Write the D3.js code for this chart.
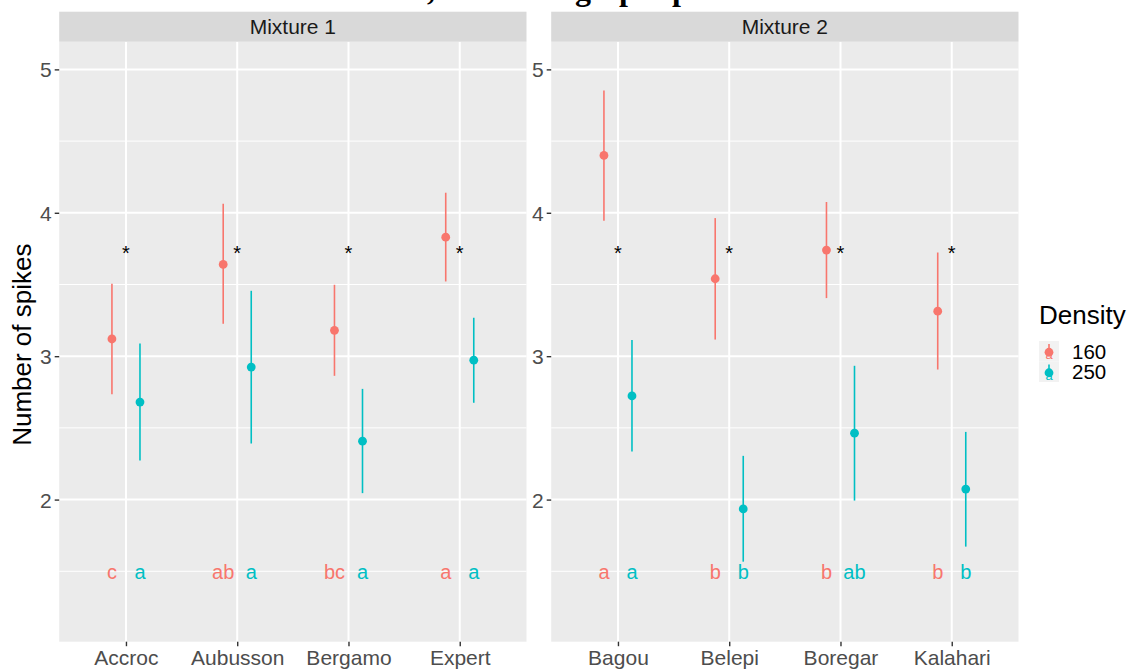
<!DOCTYPE html>
<html>
<head>
<meta charset="utf-8">
<script src="https://cdn.jsdelivr.net/npm/d3@7"></script>
<style>
  html, body { margin: 0; padding: 0; background: #ffffff; }
  svg { display: block; font-family: "Liberation Sans", Arial, sans-serif; }
</style>
</head>
<body>
<svg id="chart" width="1137" height="671"></svg>
<script>
// ---------------- data ----------------
const panels = ["Mixture 1", "Mixture 2"];
const categories1 = ["Accroc", "Aubusson", "Bergamo", "Expert"];
const categories2 = ["Bagou", "Belepi", "Boregar", "Kalahari"];
const densities = ["160", "250"];

const mean160_m1 = [3.12, 3.64, 3.18, 3.83];
const lo160_m1   = [2.735, 3.226, 2.863, 3.521];
const hi160_m1   = [3.505, 4.063, 3.498, 4.14];
const mean250_m1 = [2.68, 2.924, 2.407, 2.972];
const lo250_m1   = [2.272, 2.391, 2.045, 2.675];
const hi250_m1   = [3.088, 3.456, 2.772, 3.268];

const mean160_m2 = [4.40, 3.54, 3.74, 3.314];
const lo160_m2   = [3.944, 3.116, 3.405, 2.907];
const hi160_m2   = [4.853, 3.963, 4.075, 3.723];
const mean250_m2 = [2.723, 1.935, 2.463, 2.073];
const lo250_m2   = [2.335, 1.567, 1.993, 1.672];
const hi250_m2   = [3.112, 2.305, 2.933, 2.472];

const letters160_m1 = ["c", "ab", "bc", "a"];
const letters250_m1 = ["a", "a", "a", "a"];
const letters160_m2 = ["a", "b", "b", "b"];
const letters250_m2 = ["a", "b", "ab", "b"];

const starY = 3.75;
const letterY = 1.5;
const yTicks = [2, 3, 4, 5];
const yMinor = [1.5, 2.5, 3.5, 4.5];
const yDomain = [1.009, 5.193];

// ---------------- build ----------------
const colors = d3.scaleOrdinal().domain(densities).range(["#F8766D", "#00BFC4"]);

function rows(cats, m160, l160, h160, m250, l250, h250, t160, t250) {
  const out = [];
  cats.forEach((c, i) => {
    out.push({cat: c, dens: "160", mean: m160[i], lo: l160[i], hi: h160[i], letter: t160[i]});
    out.push({cat: c, dens: "250", mean: m250[i], lo: l250[i], hi: h250[i], letter: t250[i]});
  });
  return out;
}
const panelData = [
  {name: panels[0], cats: categories1,
   rows: rows(categories1, mean160_m1, lo160_m1, hi160_m1, mean250_m1, lo250_m1, hi250_m1, letters160_m1, letters250_m1)},
  {name: panels[1], cats: categories2,
   rows: rows(categories2, mean160_m2, lo160_m2, hi160_m2, mean250_m2, lo250_m2, hi250_m2, letters160_m2, letters250_m2)}
];

const svg = d3.select("#chart");

// fragment of the cropped caption above the figure (only descenders visible)
const frag = svg.append("g").attr("font-family", "'Liberation Serif', 'DejaVu Serif', serif")
  .attr("font-weight", "bold").attr("font-size", 32).attr("fill", "#000");
[[427, ","], [575, "g"], [619, "p"], [672, "p"]].forEach(d => {
  frag.append("text").attr("x", d[0]).attr("y", 0).text(d[1]);
});

const panelTop = 41.7, panelBottom = 641.7, panelW = 467.3;
const panelLefts = [59.2, 551.2];
const stripTop = 11.7;

const y = d3.scaleLinear().domain(yDomain).range([panelBottom, panelTop]);

panelData.forEach((p, pi) => {
  const left = panelLefts[pi];
  const x = d3.scalePoint().domain(p.cats).range([left, left + panelW]).padding(0.6);
  const step = x.step();
  const dodge = d3.scalePoint().domain(densities).range([-0.126 * step, 0.126 * step]);

  const g = svg.append("g");

  // panel background
  g.append("rect").attr("x", left).attr("y", panelTop).attr("width", panelW)
    .attr("height", panelBottom - panelTop).attr("fill", "#EBEBEB");

  // minor grid
  g.selectAll(".minor").data(yMinor).enter().append("line")
    .attr("x1", left).attr("x2", left + panelW)
    .attr("y1", d => y(d)).attr("y2", d => y(d))
    .attr("stroke", "#ffffff").attr("stroke-width", 1);
  // major grid
  g.selectAll(".majorY").data(yTicks).enter().append("line")
    .attr("x1", left).attr("x2", left + panelW)
    .attr("y1", d => y(d)).attr("y2", d => y(d))
    .attr("stroke", "#ffffff").attr("stroke-width", 2);
  g.selectAll(".majorX").data(p.cats).enter().append("line")
    .attr("x1", d => x(d)).attr("x2", d => x(d))
    .attr("y1", panelTop).attr("y2", panelBottom)
    .attr("stroke", "#ffffff").attr("stroke-width", 2);

  // strip
  g.append("rect").attr("x", left).attr("y", stripTop).attr("width", panelW)
    .attr("height", panelTop - stripTop).attr("fill", "#D9D9D9");
  g.append("text").attr("x", left + panelW / 2).attr("y", (stripTop + panelTop) / 2 + 7.5)
    .attr("text-anchor", "middle").attr("font-size", 21).attr("fill", "#1A1A1A").text(p.name);

  // axes
  const yAxis = d3.axisLeft(y).tickValues(yTicks).tickSize(4.5).tickPadding(3).tickFormat(d3.format("d"));
  const ya = g.append("g").attr("transform", `translate(${left},0)`).call(yAxis);
  ya.select(".domain").remove();
  ya.selectAll(".tick line").attr("stroke", "#333333").attr("stroke-width", 1.4);
  ya.selectAll(".tick text").attr("font-size", 21).attr("fill", "#4D4D4D")
    .attr("font-family", "'Liberation Sans', Arial, sans-serif").attr("dy", "0.36em");

  const xAxis = d3.axisBottom(x).tickSize(4.5).tickPadding(4);
  const xa = g.append("g").attr("transform", `translate(0,${panelBottom})`).call(xAxis);
  xa.select(".domain").remove();
  xa.selectAll(".tick line").attr("stroke", "#333333").attr("stroke-width", 1.4);
  xa.selectAll(".tick text").attr("font-size", 21).attr("fill", "#4D4D4D")
    .attr("font-family", "'Liberation Sans', Arial, sans-serif").attr("dy", "0.72em");

  // pointranges
  g.selectAll(".rng").data(p.rows).enter().append("line")
    .attr("x1", d => x(d.cat) + dodge(d.dens)).attr("x2", d => x(d.cat) + dodge(d.dens))
    .attr("y1", d => y(d.lo)).attr("y2", d => y(d.hi))
    .attr("stroke", d => colors(d.dens)).attr("stroke-width", 1.6);
  g.selectAll(".pt").data(p.rows).enter().append("circle")
    .attr("cx", d => x(d.cat) + dodge(d.dens)).attr("cy", d => y(d.mean))
    .attr("r", 4.4).attr("fill", d => colors(d.dens));

  // significance stars
  g.selectAll(".star").data(p.cats).enter().append("text")
    .attr("x", d => x(d)).attr("y", y(starY) + 11.6)
    .attr("text-anchor", "middle").attr("font-size", 20).attr("fill", "#000").text("*");

  // letters
  g.selectAll(".let").data(p.rows).enter().append("text")
    .attr("x", d => x(d.cat) + dodge(d.dens)).attr("y", y(letterY) + 8)
    .attr("text-anchor", "middle").attr("font-size", 20)
    .attr("fill", d => colors(d.dens)).text(d => d.letter);
});

// y axis title
svg.append("text")
  .attr("transform", `translate(31,${(panelTop + panelBottom) / 2 + 3}) rotate(-90)`)
  .attr("text-anchor", "middle").attr("font-size", 26).attr("fill", "#000")
  .text("Number of spikes");

// legend
const lg = svg.append("g");
lg.append("text").attr("x", 1039).attr("y", 324).attr("font-size", 26).attr("fill", "#000").text("Density");
const keyH = 20.5, keyW = 20, keyTop = 341, keyLeft = 1039;
densities.forEach((dn, i) => {
  const ky = keyTop + i * keyH;
  const cx = keyLeft + keyW / 2, cy = ky + keyH / 2;
  lg.append("rect").attr("x", keyLeft).attr("y", ky).attr("width", keyW).attr("height", keyH).attr("fill", "#F2F2F2");
  lg.append("line").attr("x1", cx).attr("x2", cx).attr("y1", ky + 3).attr("y2", cy + 3)
    .attr("stroke", colors(dn)).attr("stroke-width", 1.6);
  lg.append("circle").attr("cx", cx).attr("cy", cy + 1).attr("r", 4.4).attr("fill", colors(dn));
  lg.append("text").attr("x", cx).attr("y", cy + 8).attr("text-anchor", "middle")
    .attr("font-size", 13).attr("fill", colors(dn)).text("a");
  lg.append("text").attr("x", 1072).attr("y", cy + 7.5).attr("font-size", 20.5).attr("fill", "#000").text(dn);
});
</script>
</body>
</html>
